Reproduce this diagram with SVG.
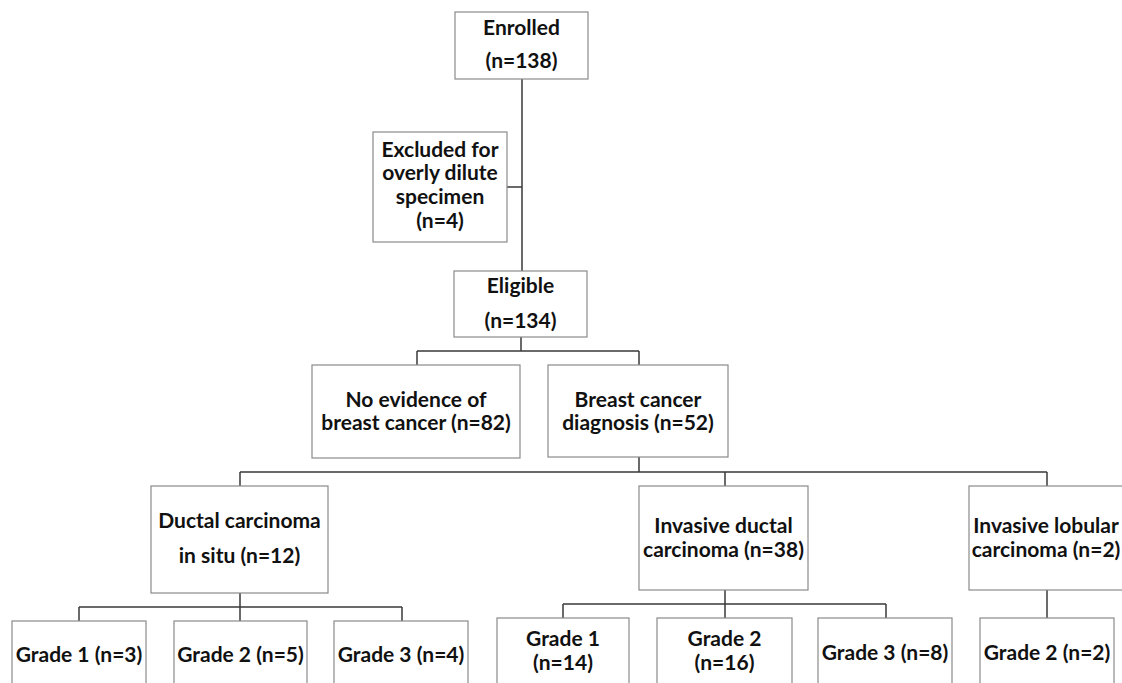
<svg xmlns="http://www.w3.org/2000/svg" width="1122" height="683" viewBox="0 0 1122 683">
<style>
.box{fill:#fff;stroke:#8a8a8a;stroke-width:1.2}
.t{font-family:Lato,"Liberation Sans",sans-serif;font-weight:bold;font-size:21px;fill:#111;text-anchor:middle}
.c{stroke:#3a3a3a;stroke-width:1.5;fill:none}
</style>
<rect width="1122" height="683" fill="#fff"/>
<g id="connectors">
<path class="c" d="M522 79V271M507 187H522"/>
<path class="c" d="M521 337V351M417 351H639M417 351V365M639 351V365"/>
<path class="c" d="M639 457V472M240 472H1047M240 472V486M725 472V486M1047 472V486"/>
<path class="c" d="M240 593V607M79 607H402M79 607V621M240 607V621M402 607V621"/>
<path class="c" d="M725 590V604M563 604H886M563 604V618M725 604V618M886 604V618"/>
<path class="c" d="M1047 590V618"/>
</g>
<g id="enrolled"><rect class="box" x="455" y="12" width="133" height="67"/><text class="t" x="521.5" y="35">Enrolled</text><text class="t" x="521.5" y="68">(n=138)</text></g>
<g id="excluded"><rect class="box" x="373" y="132" width="134" height="110"/><text class="t" x="440" y="157">Excluded for</text><text class="t" x="440" y="180">overly dilute</text><text class="t" x="440" y="204">specimen</text><text class="t" x="440" y="228">(n=4)</text></g>
<g id="eligible"><rect class="box" x="454" y="271" width="133" height="66"/><text class="t" x="520.5" y="293">Eligible</text><text class="t" x="520.5" y="328">(n=134)</text></g>
<g id="no-evidence"><rect class="box" x="312" y="365" width="208" height="93"/><text class="t" x="416" y="407">No evidence of</text><text class="t" x="416" y="430">breast cancer (n=82)</text></g>
<g id="breast-cancer"><rect class="box" x="548" y="365" width="180" height="92"/><text class="t" x="638" y="407">Breast cancer</text><text class="t" x="638" y="430">diagnosis (n=52)</text></g>
<g id="dcis"><rect class="box" x="151" y="486" width="177" height="107"/><text class="t" x="239.5" y="528">Ductal carcinoma</text><text class="t" x="239.5" y="563">in situ (n=12)</text></g>
<g id="idc"><rect class="box" x="639" y="486" width="169" height="104"/><text class="t" x="723.5" y="533">Invasive ductal</text><text class="t" x="723.5" y="557">carcinoma (n=38)</text></g>
<g id="ilc"><rect class="box" x="969" y="486" width="170" height="104"/><text class="t" x="1046" y="533">Invasive lobular</text><text class="t" x="1046" y="557">carcinoma (n=2)</text></g>
<g id="dcis-g1"><rect class="box" x="12" y="621" width="134" height="80"/><text class="t" x="79" y="662">Grade 1 (n=3)</text></g>
<g id="dcis-g2"><rect class="box" x="174" y="621" width="133" height="80"/><text class="t" x="240.5" y="662">Grade 2 (n=5)</text></g>
<g id="dcis-g3"><rect class="box" x="334" y="621" width="134" height="80"/><text class="t" x="401" y="662">Grade 3 (n=4)</text></g>
<g id="idc-g1"><rect class="box" x="497" y="618" width="132" height="80"/><text class="t" x="563" y="646">Grade 1</text><text class="t" x="563" y="670">(n=14)</text></g>
<g id="idc-g2"><rect class="box" x="657" y="618" width="135" height="80"/><text class="t" x="724.5" y="646">Grade 2</text><text class="t" x="724.5" y="670">(n=16)</text></g>
<g id="idc-g3"><rect class="box" x="818" y="618" width="134" height="80"/><text class="t" x="885" y="660">Grade 3 (n=8)</text></g>
<g id="ilc-g2"><rect class="box" x="980" y="618" width="134" height="80"/><text class="t" x="1047" y="660">Grade 2 (n=2)</text></g>
</svg>
